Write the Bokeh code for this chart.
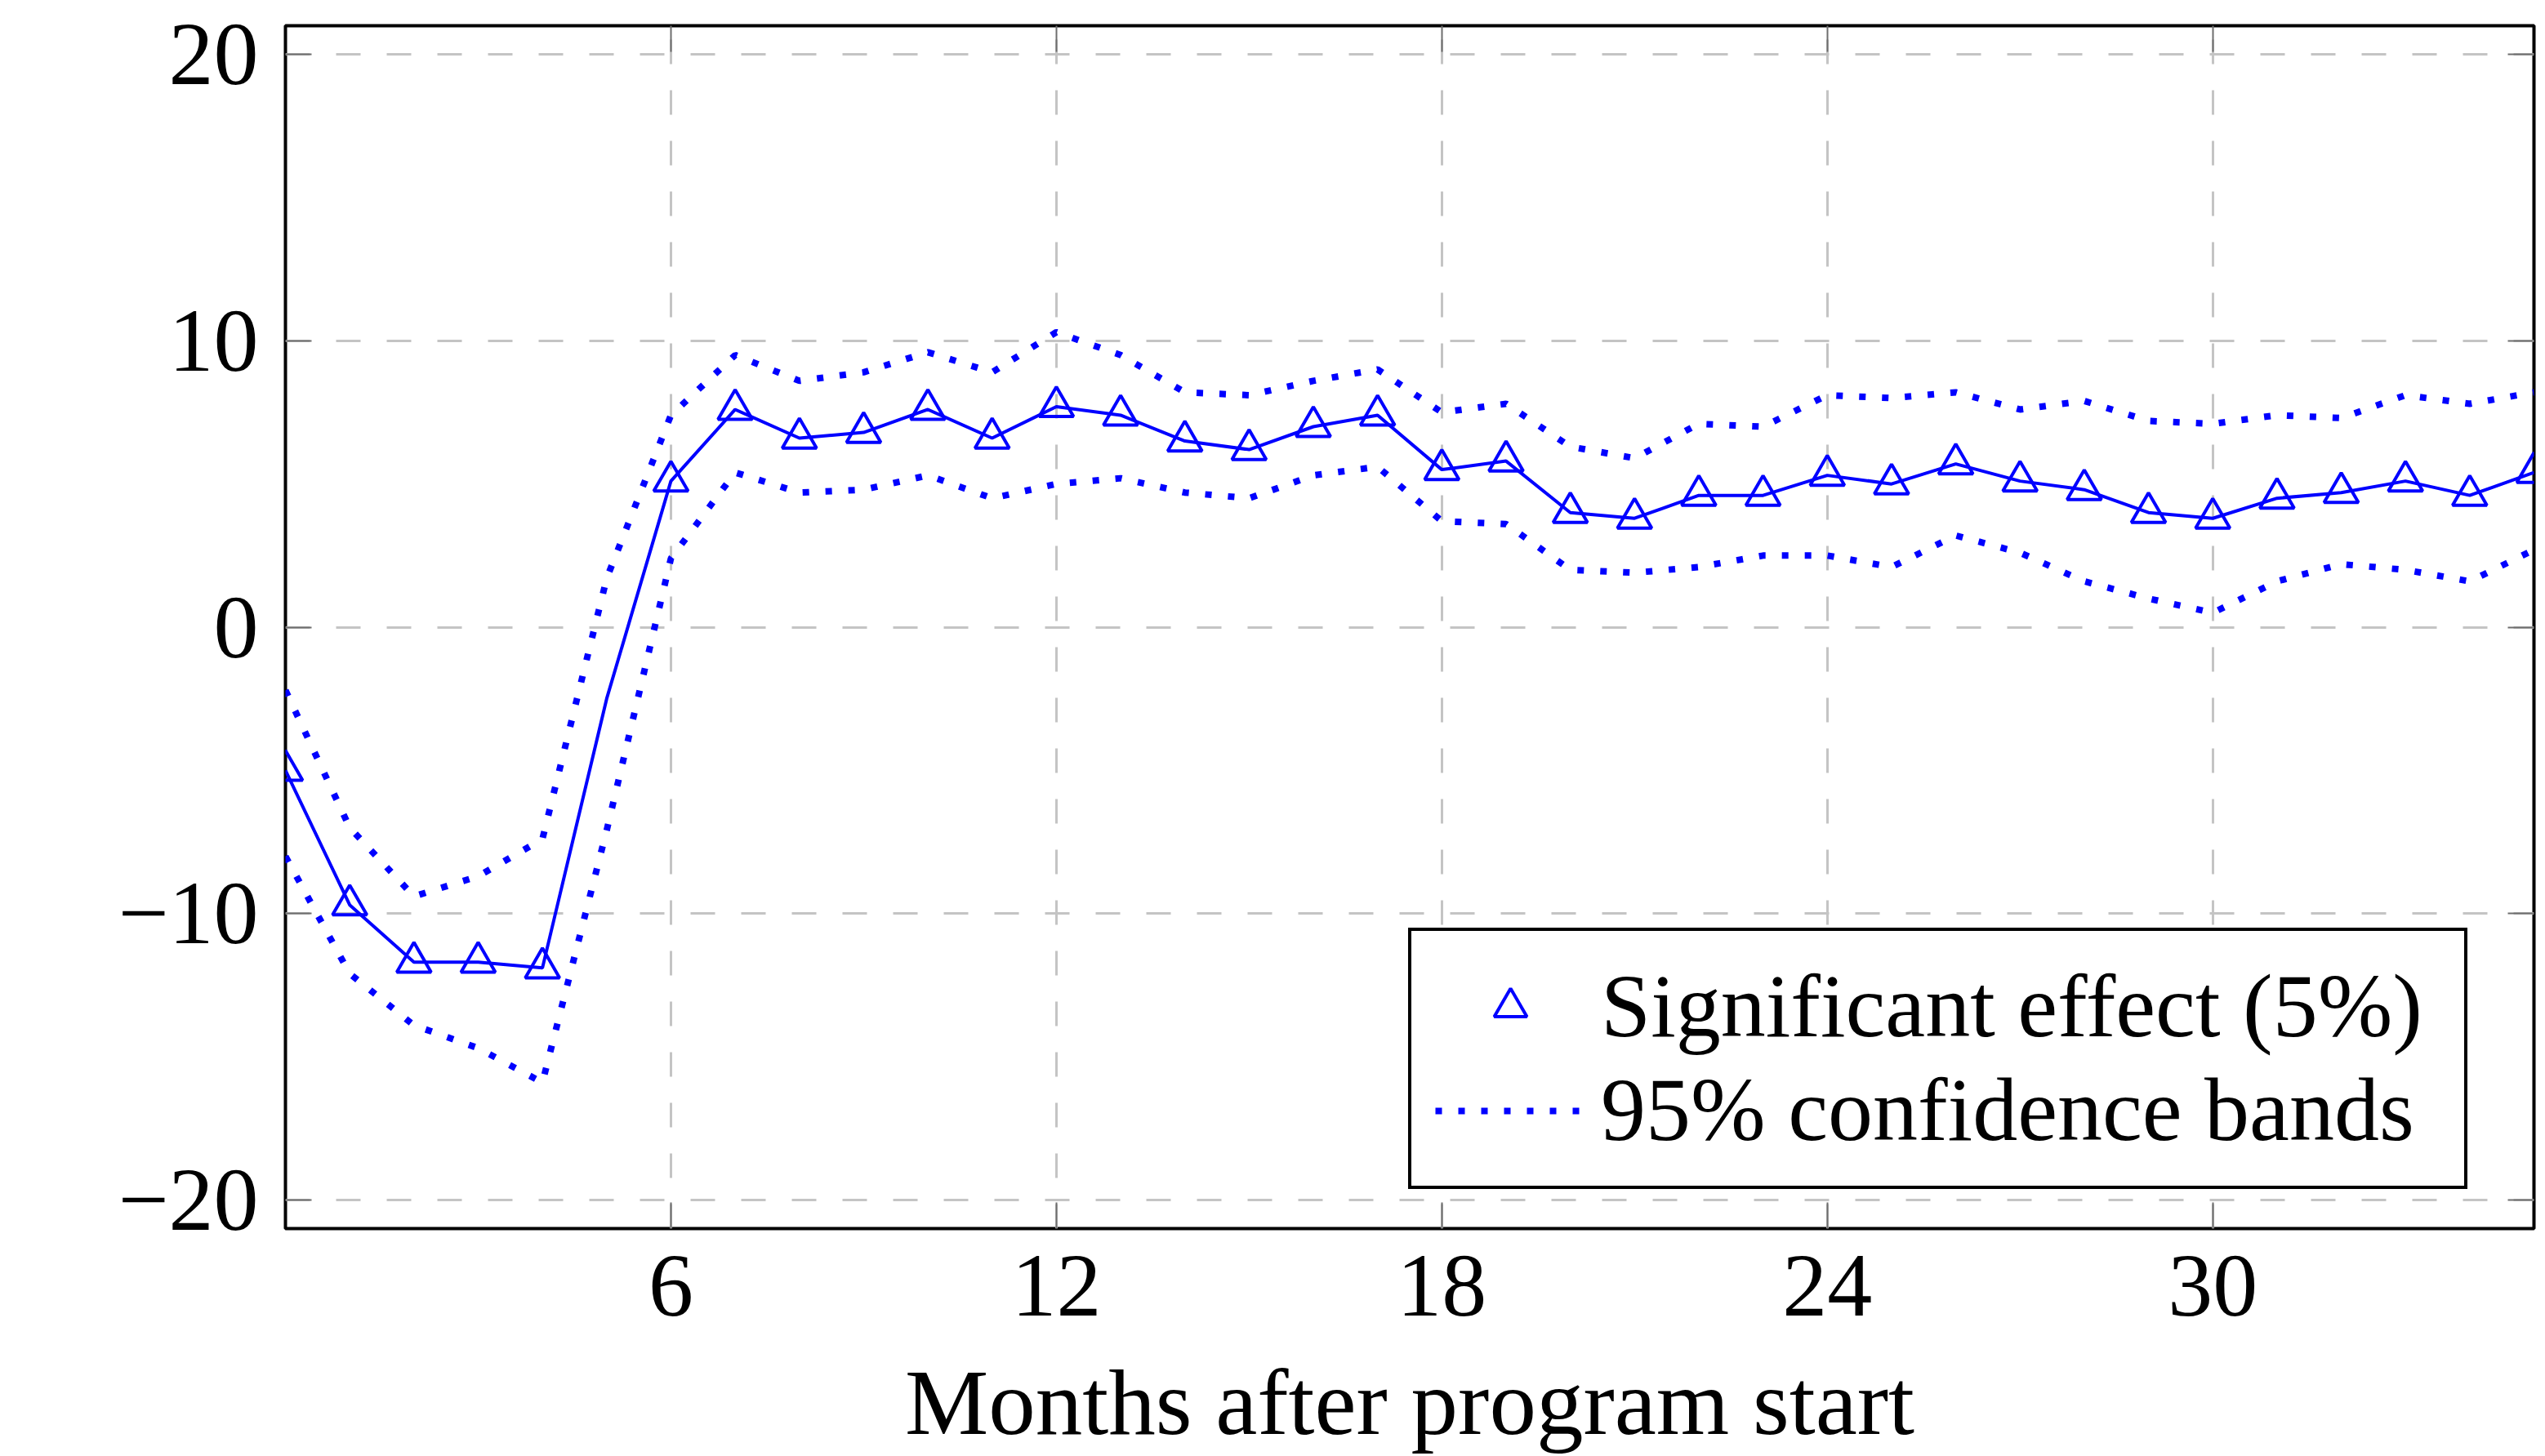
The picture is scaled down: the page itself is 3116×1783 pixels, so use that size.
from bokeh.plotting import figure
from bokeh.models import (Range1d, FixedTicker, LinearAxis, Legend, LegendItem,
                          CustomJSTickFormatter, ColumnDataSource)
from bokeh.embed import file_html
from bokeh.resources import INLINE

# ---------------- data ----------------
months = [0, 1, 2, 3, 4, 5, 6, 7, 8, 9, 10, 11, 12, 13, 14, 15, 16, 17,
          18, 19, 20, 21, 22, 23, 24, 25, 26, 27, 28, 29, 30, 31, 32, 33, 34, 35]
effect = [-5.0, -9.7, -11.7, -11.7, -11.9, -2.5, 5.1, 7.6, 6.6, 6.8, 7.6, 6.6,
          7.7, 7.4, 6.5, 6.2, 7.0, 7.4, 5.5, 5.8, 4.0, 3.8, 4.6, 4.6,
          5.3, 5.0, 5.7, 5.1, 4.8, 4.0, 3.8, 4.5, 4.7, 5.1, 4.6, 5.4]
upper = [-2.2, -7.0, -9.4, -8.7, -7.4, 1.7, 7.4, 9.5, 8.6, 8.9, 9.6, 8.9,
         10.3, 9.5, 8.2, 8.1, 8.6, 9.0, 7.5, 7.8, 6.3, 5.9, 7.1, 7.0,
         8.1, 8.0, 8.2, 7.6, 7.9, 7.2, 7.1, 7.4, 7.3, 8.1, 7.8, 8.2]
lower = [-8.0, -12.1, -13.9, -14.7, -15.9, -7.1, 2.4, 5.4, 4.7, 4.8, 5.3, 4.5,
         5.0, 5.2, 4.7, 4.5, 5.3, 5.6, 3.7, 3.6, 2.0, 1.9, 2.1, 2.5,
         2.5, 2.1, 3.2, 2.6, 1.6, 1.0, 0.5, 1.6, 2.2, 2.0, 1.6, 2.7]
significant = [1, 1, 1, 1, 1, 0, 1, 1, 1, 1, 1, 1, 1, 1, 1, 1, 1, 1,
               1, 1, 1, 1, 1, 1, 1, 1, 1, 1, 1, 1, 1, 1, 1, 1, 1, 1]

x_ticks = [6, 12, 18, 24, 30]
x_tick_labels = ["6", "12", "18", "24", "30"]
y_ticks = [-20, -10, 0, 10, 20]
y_tick_labels = ["\u221220", "\u221210", "0", "10", "20"]
x_label = "Months after program start"
legend_labels = ["Significant effect (5%)", "95% confidence bands"]

# ---------------- style ----------------
FONT = "Liberation Serif"
BLUE = "#0000ff"
GRID = "#c4c4c4"
TICK = "#6e6e6e"

src = ColumnDataSource(dict(month=months, effect=effect, upper=upper, lower=lower))
sig_src = ColumnDataSource(dict(
    month=[m for m, s in zip(months, significant) if s],
    effect=[e for e, s in zip(effect, significant) if s],
))

x0, x1 = months[0], months[-1]
p = figure(width=3116, height=1783, output_backend="svg", toolbar_location=None,
           x_range=Range1d(x0, x1), y_range=Range1d(-21, 21),
           min_border_left=349, min_border_right=14,
           min_border_top=31, min_border_bottom=279)
p.background_fill_color = "white"
p.border_fill_color = "white"
p.outline_line_color = "black"
p.outline_line_width = 4

# grid
p.xgrid.ticker = FixedTicker(ticks=x_ticks)
p.ygrid.ticker = FixedTicker(ticks=y_ticks)
for g in (p.xgrid, p.ygrid):
    g.grid_line_color = GRID
    g.grid_line_width = 3
    g.grid_line_dash = "30 32"


def style_axis(ax, ticks, labels=None):
    ax.ticker = FixedTicker(ticks=ticks)
    ax.axis_line_color = None
    ax.major_tick_in = 32
    ax.major_tick_out = 0
    ax.minor_tick_in = 0
    ax.minor_tick_out = 0
    ax.minor_tick_line_color = None
    ax.major_tick_line_color = TICK
    ax.major_tick_line_width = 2
    ax.major_label_text_font = FONT
    ax.major_label_text_color = "black"
    if labels is not None:
        ax.major_label_text_font_size = "110px"
        ax.major_label_overrides = dict(zip(ticks, labels))
    else:
        ax.major_label_text_font_size = "0px"
        ax.major_label_standoff = 0
        ax.formatter = CustomJSTickFormatter(code="return ''")


xa = p.xaxis[0]
style_axis(xa, x_ticks, x_tick_labels)
xa.major_label_standoff = 33
xa.axis_label = x_label
xa.axis_label_standoff = 40
xa.axis_label_text_font = FONT
xa.axis_label_text_font_size = "115px"
xa.axis_label_text_font_style = "normal"
xa.axis_label_text_color = "black"

ya = p.yaxis[0]
style_axis(ya, y_ticks, y_tick_labels)
ya.major_label_standoff = 33

top_axis = LinearAxis()
style_axis(top_axis, x_ticks)
p.add_layout(top_axis, "above")
right_axis = LinearAxis()
style_axis(right_axis, y_ticks)
p.add_layout(right_axis, "right")

# series
r_up = p.line("month", "upper", source=src, line_color=BLUE, line_width=8,
              line_dash="8 20")
r_lo = p.line("month", "lower", source=src, line_color=BLUE, line_width=8,
              line_dash="8 20")
r_main = p.line("month", "effect", source=src, line_color=BLUE, line_width=4)
r_sig = p.scatter("month", "effect", source=sig_src, marker="triangle", size=42,
                  line_color=BLUE, line_width=4, fill_color=None)

legend = Legend(items=[LegendItem(label=legend_labels[0], renderers=[r_sig]),
                       LegendItem(label=legend_labels[1], renderers=[r_up])],
                location=(1375, 48), margin=0, padding=29, spacing=-4,
                glyph_width=184, glyph_height=100, label_standoff=19,
                label_width=1028,
                label_text_font=FONT, label_text_font_size="110px",
                label_text_color="black",
                border_line_color="black", border_line_width=4,
                border_line_alpha=1.0,
                background_fill_color="white", background_fill_alpha=1.0)
p.add_layout(legend)

open("out.html", "w").write(file_html(p, INLINE))
